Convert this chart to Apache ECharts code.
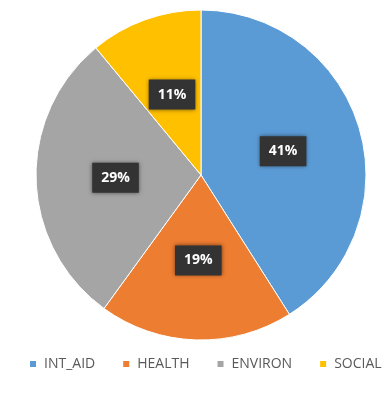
<!DOCTYPE html>
<html><head><meta charset="utf-8">
<script src="https://cdn.jsdelivr.net/npm/echarts@6/dist/echarts.min.js"></script>
<style>html,body{margin:0;padding:0;background:#fff}#c{width:384px;height:401px}</style>
</head><body><div id="c"></div>
<script>
const categories = ['INT_AID', 'HEALTH', 'ENVIRON', 'SOCIAL'];
const values = [41, 19, 29, 11];
const colors = ['#5B9BD5', '#ED7D31', '#A5A5A5', '#FFC000'];

const chart = echarts.init(document.getElementById('c'));
chart.setOption({
  animation: false,
  color: colors,
  legend: {
    top: 357,
    left: 28,
    width: 380,
    padding: 0,
    icon: 'rect',
    itemWidth: 8,
    itemHeight: 8,
    itemGap: 26,
    textStyle: { color: '#595959', fontSize: 14, fontFamily: 'Open Sans', padding: [0, 0, 0, 2] },
    data: categories
  },
  series: [{
    type: 'pie',
    center: [201, 175],
    radius: 165,
    startAngle: 90,
    clockwise: true,
    itemStyle: { borderColor: '#fff', borderWidth: 1 },
    label: {
      position: 'inside',
      formatter: '{d}%',
      color: '#fff',
      fontWeight: 'bold',
      fontSize: 14,
      fontFamily: 'Open Sans',
      backgroundColor: '#333',
      padding: [8, 9],
      shadowColor: 'rgba(0,0,0,0.5)',
      shadowBlur: 4
    },
    labelLine: { show: false },
    data: categories.map((n, i) => ({ name: n, value: values[i] }))
  }]
});
</script></body></html>
